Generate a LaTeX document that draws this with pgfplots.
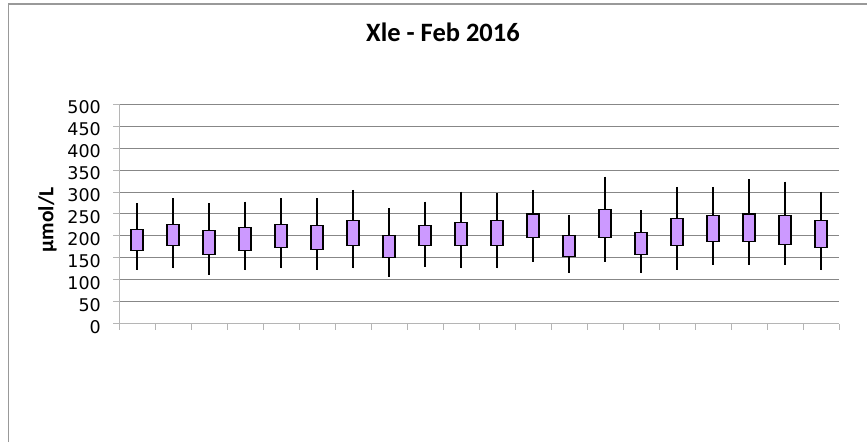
\documentclass[border=0pt]{standalone}
\usepackage{fontspec}
\setmainfont{Carlito}
\newfontfamily\dejavu{DejaVu Sans}
\usepackage{pgfplots}
\pgfplotsset{compat=1.18}
\usepgfplotslibrary{statistics}

\definecolor{boxfill}{HTML}{CC99FF}
\definecolor{gridgray}{HTML}{878787}
\definecolor{axisgray}{HTML}{B5B5B5}
\definecolor{framegray}{HTML}{999999}

% one box: position, lower whisker, lower quartile, upper quartile, upper whisker
\newcommand\bx[5]{%
  \addplot[draw=black, line width=1.1pt, fill=boxfill,
    boxplot prepared={draw position=#1,
      lower whisker=#2, lower quartile=#3, median=#3,
      upper quartile=#4, upper whisker=#5,
      box extend=0.333, whisker extend=0,
      every whisker/.style={black, line width=1.7pt}}]
    coordinates {};}

\begin{document}
\begin{tikzpicture}[x=1pt,y=1pt]
\useasboundingbox (0,0) rectangle (867,442);
% chart frame
\draw[framegray, line width=1.4pt] (8.5,0) -- (8.5,438) -- (867,438);
% title and axis title
\node[font=\fontsize{26.5}{28}\selectfont\bfseries, inner sep=0pt] at (443,409.2) {Xle - Feb 2016};
\node[font=\fontsize{21.5}{23}\selectfont\bfseries, rotate=90, inner sep=0pt] at (47.5,222) {µmol/L};
\begin{axis}[
  at={(119pt,118.3pt)}, anchor=south west,
  scale only axis, width=720pt, height=219.4pt,
  boxplot/draw direction=y,
  xmin=0.5, xmax=20.5, ymin=0, ymax=500,
  xtick={0.5,1.5,...,20.5}, xticklabels={},
  ytick={0,50,...,500},
  axis x line*=bottom, axis y line*=left,
  axis line style={axisgray, line width=1pt, -},
  tick align=outside, major tick length=6pt,
  tick style={axisgray, line width=1pt},
  ymajorgrids, grid style={gridgray, line width=1pt},
  /pgf/number format/assume math mode=true,
  yticklabel style={font=\fontsize{17.5}{18}\selectfont\dejavu, inner sep=0pt, xshift=-12pt, yshift=-3pt},
  clip=false,
]
\bx{1}{122}{166}{215}{274}
\bx{2}{126}{178}{227}{286}
\bx{3}{111}{158}{212}{274}
\bx{4}{122}{166}{220}{278}
\bx{5}{126}{173}{227}{286}
\bx{6}{122}{170}{223}{286}
\bx{7}{126}{178}{235}{305}
\bx{8}{107}{150}{200}{263}
\bx{9}{130}{178}{223}{278}
\bx{10}{126}{178}{231}{301}
\bx{11}{126}{178}{235}{297}
\bx{12}{141}{197}{250}{305}
\bx{13}{115}{154}{200}{248}
\bx{14}{141}{197}{261}{335}
\bx{15}{115}{158}{208}{259}
\bx{16}{122}{178}{239}{312}
\bx{17}{134}{188}{246}{312}
\bx{18}{134}{188}{250}{329}
\bx{19}{134}{181}{246}{324}
\bx{20}{122}{173}{235}{301}
\end{axis}
\end{tikzpicture}
\end{document}
